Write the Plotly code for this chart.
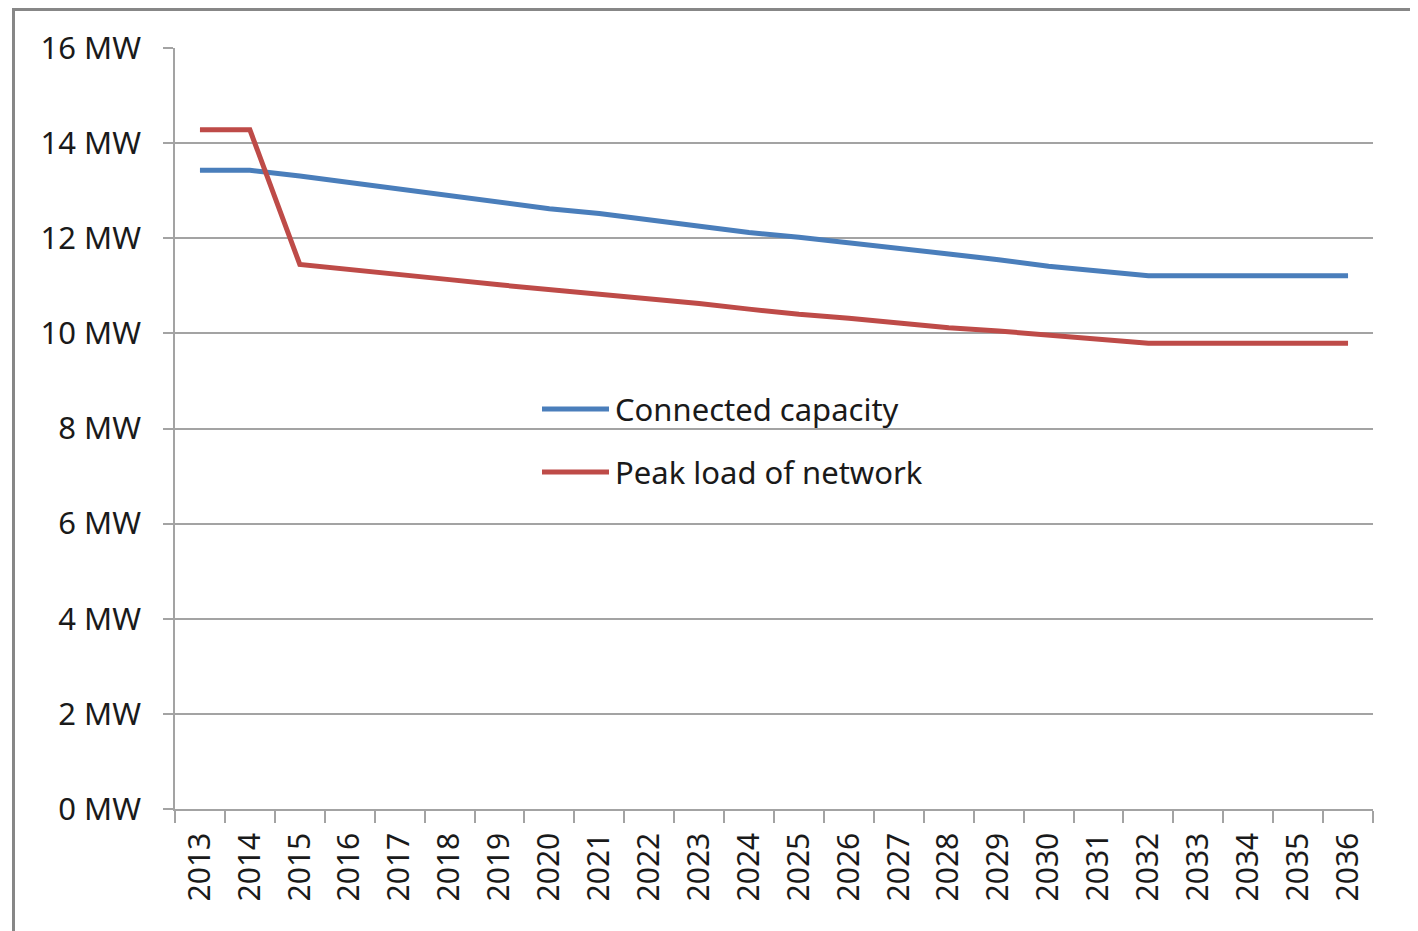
"""Connected capacity vs peak load of network"""
import plotly.graph_objects as go

years = [str(y) for y in range(2013, 2037)]
connected_capacity = [13.43, 13.43, 13.31, 13.17, 13.03, 12.90, 12.76, 12.62,
                      12.52, 12.38, 12.25, 12.12, 12.02, 11.91, 11.78, 11.67,
                      11.55, 11.41, 11.31, 11.21, 11.21, 11.21, 11.21, 11.21]
peak_load = [14.28, 14.28, 11.45, 11.35, 11.24, 11.13, 11.02, 10.92,
             10.84, 10.73, 10.63, 10.51, 10.40, 10.32, 10.22, 10.12,
             10.05, 9.96, 9.89, 9.79, 9.79, 9.79, 9.79, 9.79]
y_ticks = [0, 2, 4, 6, 8, 10, 12, 14, 16]

BLUE = "#4a7ebb"
RED = "#be4b48"
GRID = "#a3a3a3"
FONT = "Noto Sans"

fig = go.Figure()
fig.add_trace(go.Scatter(x=years, y=connected_capacity, mode="lines",
                         name="Connected capacity",
                         line=dict(color=BLUE, width=5)))
fig.add_trace(go.Scatter(x=years, y=peak_load, mode="lines",
                         name="Peak load of network",
                         line=dict(color=RED, width=5)))

# page body has an 8px margin, so the figure is laid out in shifted coords
OFF = 8
W, H = 1418 - OFF, 931 - OFF
L, R, T, B = 175 - OFF, 45, 48 - OFF, 122
pw, ph = W - L - R, H - T - B


def px(x):
    return (x - OFF - L) / pw


def py(y):
    return (H - B - (y - OFF)) / ph


shapes = [
    dict(type="rect", xref="paper", yref="paper",
         x0=px(13.5), x1=px(1500), y0=py(1000), y1=py(9.5),
         line=dict(color="#878787", width=3), layer="below"),
]
annotations = []
# legend drawn by hand (Excel style long line samples)
for name, color, ly in [("Connected capacity", BLUE, 409),
                        ("Peak load of network", RED, 472)]:
    shapes.append(dict(type="line", xref="paper", yref="paper",
                       x0=px(542), x1=px(609), y0=py(ly), y1=py(ly),
                       line=dict(color=color, width=5)))
    annotations.append(dict(text=name, xref="paper", yref="paper",
                            x=px(613), y=py(ly), xanchor="left", yanchor="middle",
                            showarrow=False,
                            font=dict(family=FONT, size=31, color="#1a1a1a")))

fig.update_layout(
    width=W, height=H,
    margin=dict(l=L, r=R, t=T, b=B, autoexpand=False),
    paper_bgcolor="white", plot_bgcolor="white",
    showlegend=False,
    font=dict(family=FONT, size=31, color="#1a1a1a"),
    shapes=shapes, annotations=annotations,
    xaxis=dict(type="category", range=[-0.5, 23.5], tickson="boundaries",
               ticks="outside", ticklen=12, tickcolor=GRID, tickwidth=1.5,
               showline=True, linecolor=GRID, linewidth=1.5,
               showgrid=False, tickangle=-90, ticklabelstandoff=10,
               tickfont=dict(family=FONT, size=30, color="#1a1a1a")),
    yaxis=dict(range=[0, 16], tickvals=y_ticks,
               ticktext=[f"{v} MW" for v in y_ticks],
               ticks="outside", ticklen=10, tickcolor=GRID, tickwidth=1.5,
               showline=True, linecolor=GRID, linewidth=1.5,
               showgrid=True, gridcolor=GRID, gridwidth=1.5, zeroline=False,
               ticklabelstandoff=16,
               tickfont=dict(family=FONT, size=31, color="#1a1a1a")),
)

fig.write_html("out.html")
